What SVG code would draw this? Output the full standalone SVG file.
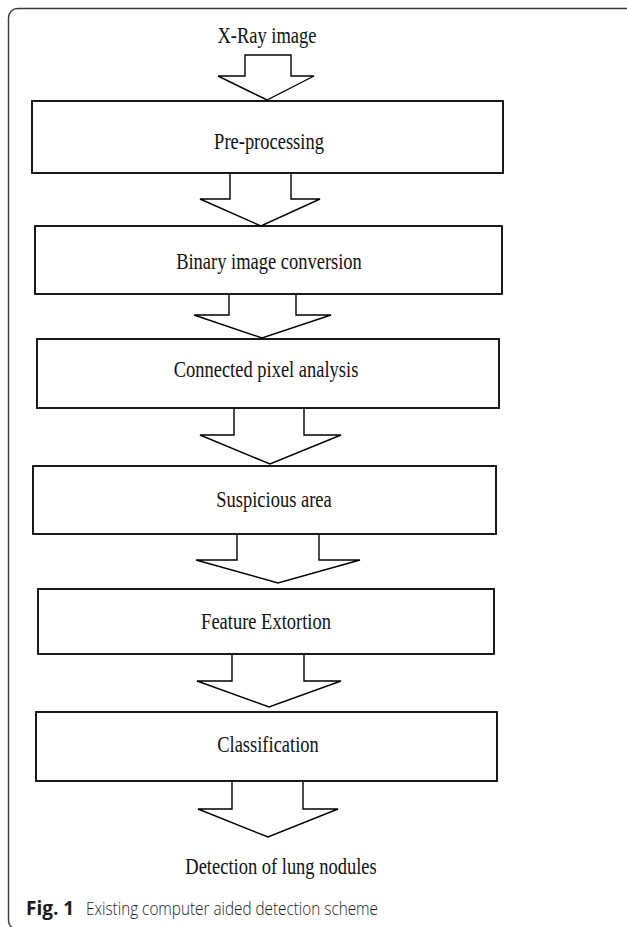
<svg xmlns="http://www.w3.org/2000/svg" width="627" height="927" viewBox="0 0 627 927">
  <style>
    .frame { fill: none; stroke: #3a3a3a; stroke-width: 1.4; }
    .box { fill: #ffffff; stroke: #000000; stroke-width: 1.8; }
    .arrow { fill: #ffffff; stroke: #000000; stroke-width: 1.4; stroke-linejoin: miter; }
    .lbl { font-family: "Liberation Serif", "Times New Roman", serif; font-size: 24px; fill: #111111; text-anchor: middle; }
    .cap { font-family: "Open Sans", "Noto Sans", sans-serif; font-size: 19px; fill: #1a1a1a; }
    .capb { font-weight: bold; }
    .capr { font-weight: 300; }
  </style>

  <rect width="627" height="927" fill="#ffffff"/>
  <!-- figure panel border -->
  <rect class="frame" x="8.5" y="8.5" width="640" height="921" rx="9"/>

  <!-- block arrows between the stages -->
  <g id="connectors">
    <polygon class="arrow" points="245,55 291,55 291,76 314,76 267,100 218,76 245,76"/>
    <polyline class="arrow" points="230,173 230,199 200,199 261,226 320,199 291,199 291,173"/>
    <polyline class="arrow" points="229,294 229,315 194,315 262,338 331,315 296,315 296,294"/>
    <polyline class="arrow" points="234,408 234,435 200,435 270,464 341,435 304,435 304,408"/>
    <polyline class="arrow" points="237,534 237,560 196,560 278,583 360,560 319,560 319,534"/>
    <polyline class="arrow" points="232,654 232,681 197,681 269,707 341,681 304,681 304,654"/>
    <polyline class="arrow" points="232,781 232,809 198,809 268,837 338,809 303,809 303,781"/>
  </g>

  <g id="input">
    <text class="lbl" transform="translate(267,43) scale(0.77,1)">X-Ray image</text>
  </g>

  <g id="preprocessing">
    <rect class="box" x="32" y="101" width="471" height="72"/>
    <text class="lbl" transform="translate(269,149) scale(0.77,1)">Pre-processing</text>
  </g>

  <g id="binary-conversion">
    <rect class="box" x="35" y="226" width="467" height="68"/>
    <text class="lbl" transform="translate(269,269) scale(0.77,1)">Binary image conversion</text>
  </g>

  <g id="connected-pixel">
    <rect class="box" x="37" y="339" width="462" height="69"/>
    <text class="lbl" transform="translate(266,377) scale(0.77,1)">Connected pixel analysis</text>
  </g>

  <g id="suspicious-area">
    <rect class="box" x="33" y="466" width="463" height="68"/>
    <text class="lbl" transform="translate(274,507) scale(0.77,1)">Suspicious area</text>
  </g>

  <g id="feature-extortion">
    <rect class="box" x="38" y="589" width="456" height="65"/>
    <text class="lbl" transform="translate(266,629) scale(0.77,1)">Feature Extortion</text>
  </g>

  <g id="classification">
    <rect class="box" x="36" y="712" width="461" height="69"/>
    <text class="lbl" transform="translate(268,752) scale(0.77,1)">Classification</text>
  </g>

  <g id="output">
    <text class="lbl" transform="translate(281,874) scale(0.77,1)">Detection of lung nodules</text>
  </g>

  <g id="caption">
    <text class="cap capb" x="26" y="915">Fig. 1</text>
    <text class="cap capr" transform="translate(86,915) scale(0.805,1)">Existing computer aided detection scheme</text>
  </g>
</svg>
